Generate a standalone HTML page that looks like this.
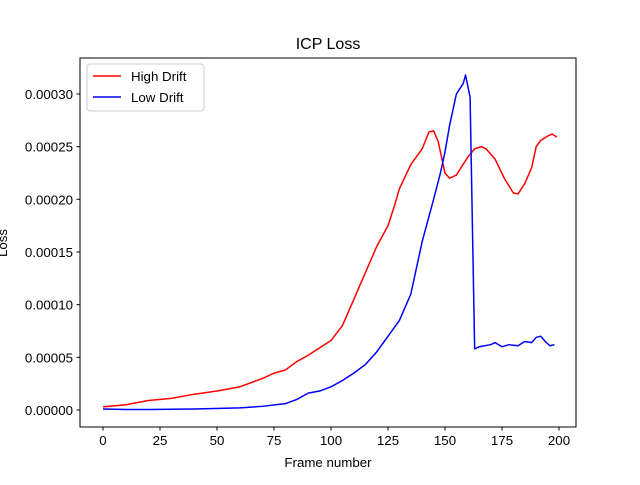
<!DOCTYPE html>
<html><head><meta charset="utf-8"><style>body{margin:0;background:#fff}svg{font-family:"Liberation Sans","DejaVu Sans",sans-serif}</style></head>
<body>
<svg id="chart" width="640" height="480" xmlns="http://www.w3.org/2000/svg">
<rect width="640" height="480" fill="#fff"/>
<text x="328" y="49" font-size="16" text-anchor="middle">ICP Loss</text>
<g id="ticks"></g>
<g id="lines"></g>
<rect x="80" y="58" width="496" height="369" fill="none" stroke="#000" stroke-width="1"/>
<text x="328" y="467" font-size="13.3" text-anchor="middle">Frame number</text>
<text transform="translate(7,243) rotate(-90)" font-size="13.3" text-anchor="middle">Loss</text>
<g>
<rect x="87" y="64" width="117" height="47" fill="#fff" stroke="#ccc" rx="3"/>
<line x1="93" y1="76" x2="121" y2="76" stroke="red" stroke-width="1.5"/>
<text x="131" y="81" font-size="13.3">High Drift</text>
<line x1="93" y1="97" x2="121" y2="97" stroke="blue" stroke-width="1.5"/>
<text x="131" y="102" font-size="13.3">Low Drift</text>
</g>
</svg>
<script>
const xTicks=[0,25,50,75,100,125,150,175,200];
const yTicks=[0,0.00005,0.0001,0.00015,0.0002,0.00025,0.0003];
const yTickLabels=["0.00000","0.00005","0.00010","0.00015","0.00020","0.00025","0.00030"];
const highX=[0,10,20,30,40,50,60,70,75,80,85,90,95,100,105,110,115,120,125,128,130,135,140,143,145,147,150,152,155,157,160,163,166,168,172,176,180,182,185,188,190,192,195,197,199];
const highY=[0.3,0.5,0.9,1.1,1.5,1.8,2.2,3.0,3.5,3.8,4.6,5.2,5.9,6.6,8.0,10.5,13.0,15.5,17.5,19.5,21.0,23.3,24.8,26.4,26.5,25.5,22.5,22.0,22.3,23.0,24.0,24.8,25.0,24.8,23.8,22.0,20.6,20.5,21.5,23.0,25.0,25.6,26.0,26.2,25.9];
const lowX=[0,10,20,40,60,70,80,85,90,95,100,105,110,115,120,125,130,135,140,145,148,150,152,155,158,159,161,163,165,170,172,175,178,182,185,188,190,192,194,196,198];
const lowY=[0.1,0.05,0.05,0.1,0.2,0.35,0.6,1.0,1.6,1.8,2.2,2.8,3.5,4.3,5.5,7.0,8.5,11.0,16.0,20.0,22.5,24.5,27,30,31,31.8,29.7,5.8,6.0,6.2,6.4,6.0,6.2,6.1,6.5,6.4,6.9,7.0,6.5,6.1,6.2];
const NS="http://www.w3.org/2000/svg";
const sx=v=>103+v*2.28;
const sy=v=>410-v/0.00005*52.67;
const T=document.getElementById('ticks');
function mk(tag,a){const e=document.createElementNS(NS,tag);for(const k in a)e.setAttribute(k,a[k]);return e;}
xTicks.forEach(t=>{
 const l=mk('line',{x1:sx(t),x2:sx(t),y1:427,y2:430.5,stroke:'#000'});
 
 
 T.appendChild(l);
 const tx=mk('text',{x:sx(t),y:445,'font-size':'13.3','text-anchor':'middle'});tx.textContent=t;
 
 
 T.appendChild(tx);
});
yTicks.forEach((t,i)=>{
 const l=mk('line',{x1:76.5,x2:80,y1:sy(t),y2:sy(t),stroke:'#000'});
 
 
 T.appendChild(l);
 const tx=mk('text',{x:73,y:sy(t)+5,'font-size':'13.3','text-anchor':'end'});tx.textContent=yTickLabels[i];
 
 
 T.appendChild(tx);
});
const L=document.getElementById('lines');
function series(xs,ys,c,name){
 const p=mk('polyline',{points:xs.map((x,i)=>sx(x)+','+sy(ys[i]*1e-5)).join(' '),fill:'none',stroke:c,'stroke-width':1.5,'stroke-linejoin':'round'});
 
 
 L.appendChild(p);
}
series(highX,highY,'red','high-drift-line');
series(lowX,lowY,'blue','low-drift-line');
</script>
</body></html>
